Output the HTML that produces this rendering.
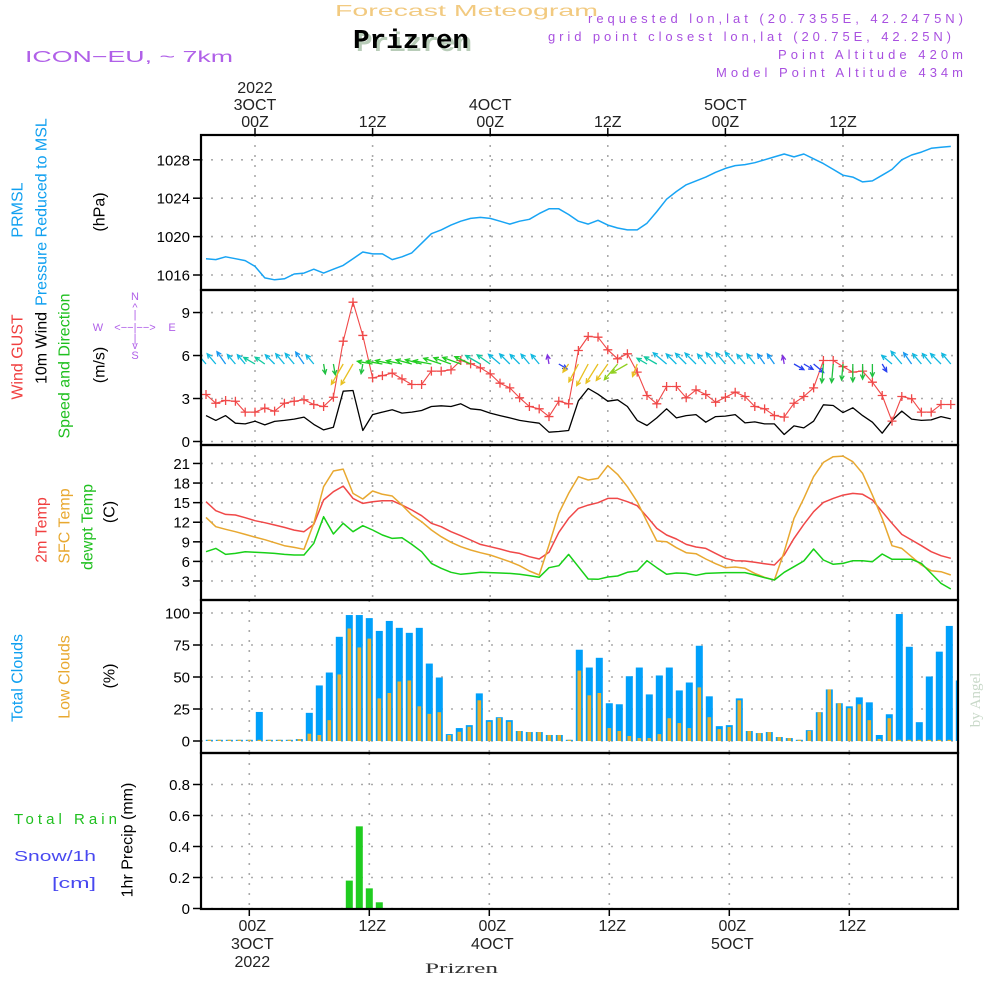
<!DOCTYPE html>
<html><head><meta charset="utf-8"><title>Forecast Meteogram Prizren</title>
<style>
html,body{margin:0;padding:0;background:#fff;}
svg{display:block;font-family:"Liberation Sans",sans-serif;}
</style></head>
<body>
<svg id="chart" width="1000" height="1000" viewBox="0 0 1000 1000" xmlns="http://www.w3.org/2000/svg">
<defs><clipPath id="plotclip"><rect x="202" y="135" width="755" height="774"/></clipPath></defs>
<rect x="0" y="0" width="1000" height="1000" fill="#fff"/>
<g id="header">
<text x="335" y="16" font-size="16" fill="#f2ca80" textLength="263" lengthAdjust="spacingAndGlyphs">Forecast Meteogram</text>
<text x="356" y="51" font-size="27" font-weight="bold" font-family="Liberation Mono, monospace" fill="#b8ccb8" textLength="116" lengthAdjust="spacingAndGlyphs">Prizren</text>
<text x="353" y="48" font-size="27" font-weight="bold" font-family="Liberation Mono, monospace" fill="#000" textLength="116" lengthAdjust="spacingAndGlyphs">Prizren</text>
<text x="25" y="62" font-size="16" fill="#b060e8" textLength="208" lengthAdjust="spacingAndGlyphs">ICON−EU, ~ 7km</text>
<text x="588" y="23" font-size="13" fill="#a850e0" textLength="375" lengthAdjust="spacing">requested lon,lat (20.7355E, 42.2475N)</text>
<text x="548" y="41" font-size="13" fill="#a850e0" textLength="403" lengthAdjust="spacing">grid point closest lon,lat (20.75E, 42.25N)</text>
<text x="778" y="59" font-size="13" fill="#a850e0" textLength="185" lengthAdjust="spacing">Point Altitude 420m</text>
<text x="716" y="77" font-size="13" fill="#a850e0" textLength="247" lengthAdjust="spacing">Model Point Altitude 434m</text>
</g>
<g id="grid"></g>
<g id="marks" clip-path="url(#plotclip)"></g>
<g id="frames"></g>
<g id="labels">
<text transform="translate(18,210) rotate(-90)" text-anchor="middle" dominant-baseline="central" font-size="16" fill="#10a0f0">PRMSL</text>
<text transform="translate(42,212) rotate(-90)" text-anchor="middle" dominant-baseline="central" font-size="16" fill="#10a0f0">Pressure Reduced to MSL</text>
<text transform="translate(100,212) rotate(-90)" text-anchor="middle" dominant-baseline="central" font-size="16" fill="#000">(hPa)</text>
<text transform="translate(18,357) rotate(-90)" text-anchor="middle" dominant-baseline="central" font-size="16" fill="#f04040">Wind GUST</text>
<text transform="translate(42,348) rotate(-90)" text-anchor="middle" dominant-baseline="central" font-size="16" fill="#000">10m Wind</text>
<text transform="translate(65,366) rotate(-90)" text-anchor="middle" dominant-baseline="central" font-size="16" fill="#20c020">Speed and Direction</text>
<text transform="translate(100,365) rotate(-90)" text-anchor="middle" dominant-baseline="central" font-size="16" fill="#000">(m/s)</text>
<g font-size="11" fill="#b060e8" text-anchor="middle">
<text x="135" y="300">N</text><text x="135" y="311">^</text><text x="135" y="318">|</text>
<text x="98" y="331">W</text><text x="135" y="331">&lt;−−|−−&gt;</text><text x="172" y="331">E</text>
<text x="135" y="342">|</text><text x="135" y="349">v</text><text x="135" y="359">S</text>
</g>
<text transform="translate(42,530) rotate(-90)" text-anchor="middle" dominant-baseline="central" font-size="16" fill="#f04040">2m Temp</text>
<text transform="translate(65,526) rotate(-90)" text-anchor="middle" dominant-baseline="central" font-size="16" fill="#e8a830">SFC Temp</text>
<text transform="translate(88,527) rotate(-90)" text-anchor="middle" dominant-baseline="central" font-size="16" fill="#20c020">dewpt Temp</text>
<text transform="translate(110,512) rotate(-90)" text-anchor="middle" dominant-baseline="central" font-size="16" fill="#000">(C)</text>
<text transform="translate(18,678) rotate(-90)" text-anchor="middle" dominant-baseline="central" font-size="16" fill="#10a0f0">Total Clouds</text>
<text transform="translate(65,677) rotate(-90)" text-anchor="middle" dominant-baseline="central" font-size="16" fill="#e8a830">Low Clouds</text>
<text transform="translate(110,676) rotate(-90)" text-anchor="middle" dominant-baseline="central" font-size="16" fill="#000">(%)</text>
<text x="14" y="824" font-size="15" fill="#20c020" textLength="103" lengthAdjust="spacing">Total   Rain</text>
<text x="14" y="861" font-size="15" fill="#4848f0" textLength="82" lengthAdjust="spacingAndGlyphs">Snow/1h</text>
<text x="52" y="888" font-size="15" fill="#4848f0" textLength="44" lengthAdjust="spacingAndGlyphs">[cm]</text>
<text transform="translate(128,840) rotate(-90)" text-anchor="middle" dominant-baseline="central" font-size="16" fill="#000">1hr Precip (mm)</text>
<text transform="translate(976,700) rotate(-90)" text-anchor="middle" dominant-baseline="central" font-size="15" font-family="Liberation Serif, serif" fill="#c8d8c8">by Angel</text>
<text x="425" y="973" font-size="15" font-family="Liberation Serif, serif" fill="#333" textLength="73" lengthAdjust="spacingAndGlyphs">Prizren</text>
</g>
</svg>
<script>
// ---- data (hourly, first value at hour -5 relative to 00Z 3 OCT) ----
const startHour = -5;
const pressure = [1017.7,1017.6,1017.9,1017.7,1017.5,
1016.9,1015.7,1015.5,1015.6,1016.1,1016.2,1016.6,1016.2,1016.6,1017.0,1017.7,1018.4,
1018.2,1018.2,1017.6,1017.9,1018.3,1019.3,1020.3,1020.7,1021.2,1021.6,1021.9,1022.0,
1021.9,1021.6,1021.3,1021.6,1021.8,1022.4,1022.9,1022.9,1022.3,1021.6,1021.3,1021.7,
1021.2,1020.9,1020.7,1020.7,1021.4,1022.6,1023.9,1024.7,1025.4,1025.8,1026.2,1026.7,
1027.1,1027.4,1027.5,1027.7,1028.0,1028.3,1028.6,1028.3,1028.6,1028.1,1027.6,1027.0,
1026.4,1026.2,1025.7,1025.8,1026.4,1027.0,1028.0,1028.5,1028.8,1029.2,1029.3,1029.4];
const windGust = [3.28,2.67,2.86,2.81,2.05,2.05,2.33,2.12,2.67,2.81,2.91,2.58,2.44,3.09,7.0,
9.72,7.4,4.44,4.6,4.77,4.37,3.98,3.98,4.91,4.91,5.0,5.65,5.42,5.14,4.72,4.07,3.74,3.05,2.44,2.28,
1.74,2.81,2.63,6.35,7.33,7.28,
6.4,5.77,6.12,4.84,3.21,2.63,3.84,3.84,3.05,3.6,3.28,2.74,3.09,3.44,3.14,2.44,2.28,1.81,1.7,2.67,
3.14,3.74,5.65,5.65,5.23,4.84,4.91,4.14,3.21,1.42,3.14,2.98,2.05,2.05,2.58,2.58];
const windSpeed = [1.81,1.47,1.81,1.28,1.23,1.42,1.16,1.40,1.47,1.56,1.70,1.19,0.81,1.0,3.51,
3.56,0.77,1.88,2.05,2.21,1.98,2.05,2.16,2.44,2.49,2.44,2.63,2.28,2.21,1.98,1.81,1.65,1.47,1.37,1.28,
0.65,0.7,0.77,2.84,3.7,3.3,
2.81,2.91,2.44,1.47,1.12,1.65,2.28,1.65,1.81,1.88,1.35,1.74,1.77,1.88,1.30,1.37,1.23,1.23,0.49,1.09,
0.95,1.42,2.56,2.51,2.02,2.35,1.81,1.35,0.58,1.47,2.12,1.56,1.47,1.51,1.74,1.58];
const windDir = [130,130,125,130,130,
150,145,135,130,130,125,130,
-80,-80,-120,-120,-100,
170,170,168,168,165,165,170,162,160,160,155,150,145,
140,135,135,130,130,100,-30,-125,
-118,-118,-122,-125,-130,-150,-110,150,150,
140,135,135,135,130,130,130,130,130,128,125,125,
100,-30,-30,-40,-95,-95,-95,-90,-90,-90,-60,
140,130,125,130,130,135,130];
const temp2m = [15.14,13.77,13.2,13.1,12.7,12.23,11.93,11.57,11.21,10.8,10.55,11.67,15.4,16.67,17.54,
15.65,14.89,15.14,15.3,15.3,14.63,13.87,13.0,11.83,11.32,10.55,9.94,9.28,8.61,8.26,7.9,7.49,7.23,6.72,6.37,
7.39,10.45,12.59,14.12,14.63,14.99,
15.65,15.65,15.14,14.53,12.85,11.06,10.04,9.43,8.61,8.2,8.0,7.23,6.47,6.11,6.06,5.86,5.65,5.45,6.98,9.53,
11.67,13.61,15.04,15.65,16.16,16.42,16.27,15.4,13.61,11.83,10.14,9.28,8.41,7.49,6.88,6.47];
const tempSfc = [12.74,11.32,10.91,10.55,10.14,9.73,9.33,8.87,8.41,8.15,7.85,11.83,17.44,19.84,20.14,
16.42,15.55,16.78,16.27,16.01,14.63,13.1,12.08,10.81,9.79,8.92,8.26,7.74,7.34,6.98,6.47,5.96,5.35,4.53,3.92,
8.51,13.36,16.42,18.97,18.46,18.71,
20.65,19.33,17.44,15.14,12.08,9.12,9.02,8.1,7.34,7.18,6.37,5.65,5.04,5.14,4.94,4.17,3.56,3.15,7.49,12.59,
15.65,18.97,21.16,22.03,22.13,21.27,19.48,16.16,12.59,8.41,8.0,6.72,5.45,4.58,4.43,3.92];
const tempDew = [7.49,8.0,7.08,7.23,7.49,7.39,7.34,7.23,7.08,6.98,6.98,8.77,12.85,10.19,11.83,
10.55,11.47,10.81,10.04,9.53,9.63,8.61,7.49,5.7,4.94,4.33,4.02,4.17,4.33,4.28,4.22,4.17,4.02,3.82,3.56,
5.04,5.35,7.08,5.19,3.31,3.26,
3.61,3.77,4.33,4.53,6.11,5.04,4.02,4.22,4.17,3.87,4.17,4.22,4.28,4.28,4.28,3.92,3.51,3.15,4.33,5.19,
6.06,7.9,6.21,5.55,5.7,6.11,6.11,5.96,7.13,6.32,6.32,6.32,5.7,4.17,2.64,1.78];
// clouds: hourly, first bar at hour -4
const cloudStartHour = -4;
const totalClouds = [0,0,0,0,0,22.7,0,0,0,1.5,
22,43.4,53.5,81.4,98.4,98.4,96,86,93.8,88.4,84.5,88.4,60.5,49.6,5.4,10.1,12.4,37.2,16.3,18.6,
16.3,7.8,7,7,4.7,4.7,0,71.3,57.4,65,
29.5,28.7,50.6,57.4,36.4,51.2,57.4,39.5,45.7,74.4,34.9,11.6,12.4,33.3,7.8,6.2,7,3.1,2.3,0.5,
8.5,22.5,40.3,29.5,27.1,34.1,30.2,4.7,20.9,99.2,73.6,14.7,50.4,69.8,89.9,47.3];
const lowClouds = [0,0,0,0,0,0,0,0,0,1.5,
5.7,4.7,16.3,52,87.9,73.1,80,33.3,37.5,46.5,47.3,27.1,21.2,22.5,4.7,7.2,11.1,31.8,15,18.1,
15,7.8,7,7,4.7,4.7,0,55,35.7,37.5,
10.1,7.8,3.9,2.3,2.3,5.4,17.8,14,10.1,41.9,18.6,9.3,10.9,31.8,7.8,6.2,7,3.1,2.3,0.5,
8,22.5,40.3,29.5,25.6,28.7,16.3,1.6,17.8,0,0,0,0,0,0,0];
const precipHours = [10,11,12,13];
const precipValues = [0.18,0.53,0.13,0.04];
// ticks
const pressureTicks = [1016,1020,1024,1028];
const windTicks = [0,3,6,9];
const tempTicks = [3,6,9,12,15,18,21];
const cloudTicks = [0,25,50,75,100];
const precipTicks = [0,0.2,0.4,0.6,0.8];
const precipTickLabels = ["0","0.2","0.4","0.6","0.8"];
const timeTicks = [0,12,24,36,48,60];
const timeTop = [["2022","3OCT","00Z"],["12Z"],["4OCT","00Z"],["12Z"],["5OCT","00Z"],["12Z"]];
const timeBottom = [["00Z","3OCT","2022"],["12Z"],["00Z","4OCT"],["12Z"],["00Z","5OCT"],["12Z"]];

// ---- axes ----
const NS = "http://www.w3.org/2000/svg";
const L = 201, R = 958;
const xU = h => 255 + 9.8 * h;      // upper three panels
const xB = h => 249.3 + 10 * h;     // cloud & precip panels
const yP = v => 275 - (v - 1016) * 9.6;
const yW = v => 441.5 - v * 14.33;
const yT = v => 581 - (v - 3) * 6.53;
const yC = v => 741 - v * 1.28;
const yR = v => 908.5 - v * 155;
const panels = [
 {name:"pressure", top:135, bot:290, y:yP, ticks:pressureTicks, x:xU},
 {name:"wind", top:290, bot:445, y:yW, ticks:windTicks, x:xU},
 {name:"temperature", top:445, bot:600, y:yT, ticks:tempTicks, x:xU},
 {name:"clouds", top:600, bot:753, y:yC, ticks:cloudTicks, x:xB},
 {name:"precip", top:753, bot:909, y:yR, ticks:precipTicks, x:xB, labels:precipTickLabels}
];
function mk(tag, attrs, parent){ const e=document.createElementNS(NS,tag); for(const k in attrs) e.setAttribute(k,attrs[k]); parent.appendChild(e); return e; }
const gGrid=document.getElementById('grid'), gMarks=document.getElementById('marks'), gFr=document.getElementById('frames');

panels.forEach(p=>{
  p.ticks.forEach((t,i)=>{
    const y=p.y(t);
    const gl=mk('line',{x1:L,x2:R,y1:y,y2:y,stroke:'#aaa','stroke-width':1.6,'stroke-dasharray':'2 8'},gGrid);
    
    
    const tk=mk('line',{x1:L-8,x2:L,y1:y,y2:y,stroke:'#000','stroke-width':1.5},gFr);
    
    
    const tx=mk('text',{x:190,y:y+5.5,'text-anchor':'end','font-size':15,fill:'#000'},gFr);
    tx.textContent = p.labels ? p.labels[i] : String(t);
    
    
  });
  timeTicks.forEach(h=>{
    const x=p.x(h);
    const vl=mk('line',{x1:x,x2:x,y1:p.top,y2:p.bot,stroke:'#aaa','stroke-width':1.6,'stroke-dasharray':'2 8'},gGrid);
    
    
  });
  const fr=mk('rect',{x:L,y:p.top,width:R-L,height:p.bot-p.top,fill:'none',stroke:'#000','stroke-width':2.2},gFr);
  
  
});
// top and bottom time labels
timeTicks.forEach((h,i)=>{
  const x=xU(h);
  const t=mk('line',{x1:x,x2:x,y1:128,y2:135,stroke:'#000','stroke-width':1.5},gFr);
  
  
  const lines=timeTop[i];
  lines.forEach((s,j)=>{
    const tx=mk('text',{x:x,y:127-(lines.length-1-j)*17,'text-anchor':'middle','font-size':16,fill:'#222'},gFr);
    tx.textContent=s;
    
    
  });
  const xb=xB(h);
  const tb=mk('line',{x1:xb,x2:xb,y1:909,y2:916,stroke:'#000','stroke-width':1.5},gFr);
  
  
  timeBottom[i].forEach((s,j)=>{
    const tx=mk('text',{x:xb+3,y:931+j*18,'text-anchor':'middle','font-size':16,fill:'#222'},gFr);
    tx.textContent=s;
    
    
  });
});

function linePath(arr, y, color, name, w){
  const d=arr.map((v,i)=>(i?'L':'M')+xU(startHour+i).toFixed(1)+','+y(v).toFixed(1)).join('');
  const p=mk('path',{d:d,fill:'none',stroke:color,'stroke-width':w||1.5,'stroke-linejoin':'round'},gMarks);
  
  
}
linePath(pressure, yP, '#18a4f4', 'pressure-line');
linePath(windSpeed, yW, '#000', 'wind-speed-line', 1.3);
linePath(windGust, yW, '#f04848', 'wind-gust-line', 1.1);
windGust.forEach((v,i)=>{
  const x=xU(startHour+i), y=yW(v);
  const m=mk('path',{d:`M${x-4.5},${y}H${x+4.5}M${x},${y-4.5}V${y+4.5}`,stroke:'#f04848','stroke-width':1.3},gMarks);
  
  
});
function arrowColor(a){
  if(a>=155) return '#22cc22';
  if(a>=143) return '#10c8a0';
  if(a>=128) return '#10b8e0';
  if(a>=115) return '#1898f0';
  if(a>=85) return '#8030e0';
  if(a>=-70) return '#2840f0';
  if(a>=-100) return '#20c040';
  if(a>=-128) return '#e8c020';
  return '#90d020';
}
windDir.forEach((a,i)=>{
  const x=xU(startHour+i), y=364;
  const len=6+5*windSpeed[i];
  const r=a*Math.PI/180;
  const x2=x+len*Math.cos(r), y2=y-len*Math.sin(r);
  const hl=5, s1=r+Math.PI-0.45, s2=r+Math.PI+0.45;
  const d=`M${x.toFixed(1)},${y}L${x2.toFixed(1)},${y2.toFixed(1)}M${(x2+hl*Math.cos(s1)).toFixed(1)},${(y2-hl*Math.sin(s1)).toFixed(1)}L${x2.toFixed(1)},${y2.toFixed(1)}L${(x2+hl*Math.cos(s2)).toFixed(1)},${(y2-hl*Math.sin(s2)).toFixed(1)}`;
  const p=mk('path',{d:d,fill:'none',stroke:arrowColor(a),'stroke-width':1.3},gMarks);
  
  
});
linePath(temp2m, yT, '#f04848', 'temp-2m-line');
linePath(tempSfc, yT, '#e8a830', 'temp-sfc-line');
linePath(tempDew, yT, '#18d018', 'dewpoint-line');
totalClouds.forEach((v,i)=>{
  const x=xB(cloudStartHour+i), y0=yC(0), h=Math.max(1.2, v*1.28);
  const b=mk('rect',{x:x-3.5,y:y0-h,width:7,height:h,fill:'#00a0fa'},gMarks);
  
  
  const lv=lowClouds[i], lh=Math.max(1.2, lv*1.28);
  const o=mk('rect',{x:x-1.8,y:y0-lh,width:3.6,height:lh,fill:'#e8b030'},gMarks);
  
  
});
precipHours.forEach((h,i)=>{
  const x=xB(h), y0=yR(0), hh=precipValues[i]*155;
  const b=mk('rect',{x:x-3.5,y:y0-hh,width:7,height:hh,fill:'#20cc20'},gMarks);
  
  
});
</script>
</body></html>
